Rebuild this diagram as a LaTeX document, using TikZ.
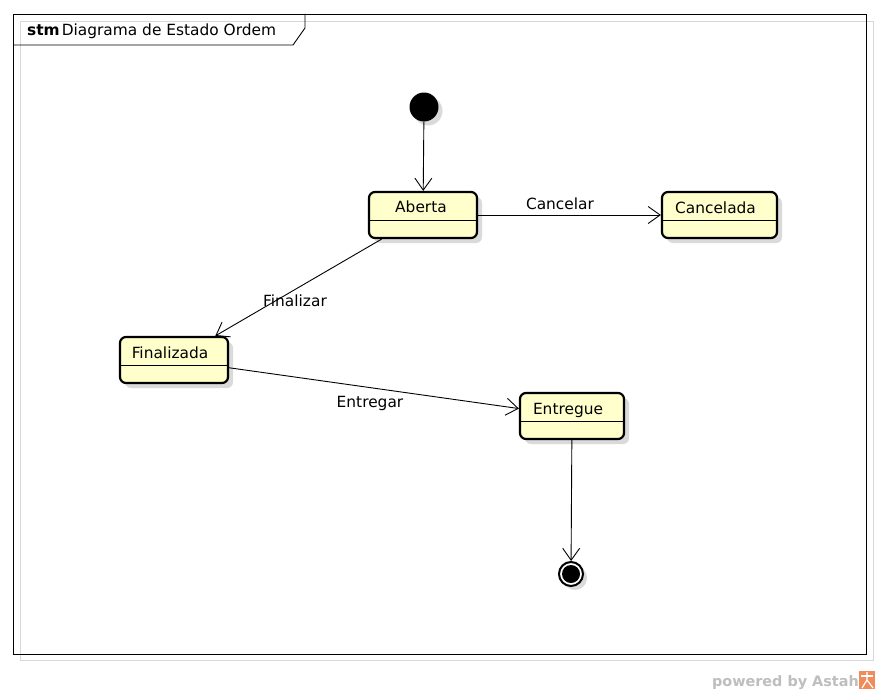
\documentclass[tikz,border=0pt]{standalone}
\usepackage{fontspec}
\setmainfont{DejaVu Sans}
\usetikzlibrary{arrows.meta,calc,shadows}
\definecolor{statefill}{RGB}{255,255,204}
\definecolor{shadowgray}{RGB}{218,218,218}
\definecolor{framegray}{RGB}{215,215,215}
\definecolor{astahgray}{RGB}{190,190,190}
\definecolor{astahorange}{RGB}{240,140,90}
\begin{document}
\begin{tikzpicture}[x=1pt,y=-1pt,
  every node/.style={font=\fontsize{15.4}{18}\selectfont},
  statebox/.style={draw=black, line width=2.2pt, rounded corners=6pt, fill=statefill,
    minimum height=46pt, inner sep=0pt,
    drop shadow={shadow xshift=5pt, shadow yshift=-5pt, fill=shadowgray, opacity=1}},
  statename/.style={anchor=base, inner sep=0pt},
  trans/.style={line width=0.9pt, -{Straight Barb[length=12pt,width=17pt,line width=0.9pt]}},
  tlabel/.style={anchor=base, inner sep=0pt},
  initstate/.style={circle, fill=black, minimum size=29pt, inner sep=0pt,
    drop shadow={shadow xshift=4pt, shadow yshift=-4pt, fill=shadowgray, opacity=1}},
  finalstate/.style={circle, draw=black, line width=2pt, fill=white, minimum size=24pt, inner sep=0pt,
    drop shadow={shadow xshift=4pt, shadow yshift=-4pt, fill=shadowgray, opacity=1}}
]
\useasboundingbox (0,0) rectangle (880,693);
\fill[white] (0,0) rectangle (880,693);
% frame
\draw[framegray, line width=0.8pt] (20.5,21) rectangle (873,660);
\draw[black, line width=0.9pt] (13,14) rectangle (866,654);
\draw[black, line width=0.9pt] (13,45) -- (293,45) -- (305,28) -- (305,14);
\node[anchor=base west, inner sep=0pt] (title) at (27,36) {\textbf{stm}\hspace{2pt}Diagrama de Estado Ordem};

% states
\node[initstate] (init) at (424,107) {};
\node[statebox, minimum width=108pt] (aberta) at (423,215) {};
\node[statebox, minimum width=115pt] (cancelada) at (719.5,215) {};
\node[statebox, minimum width=108pt] (finalizada) at (174,360) {};
\node[statebox, minimum width=104pt] (entregue) at (572,416) {};
\node[finalstate] (final) at (571,574) {};
\fill[black] (final.center) circle (9pt);

% dividers
\foreach \s in {aberta, cancelada, finalizada, entregue}{
  \draw[line width=0.9pt] ($(\s.north west)+(0,30)$) -- ($(\s.north east)+(0,30)$);
}
\node[statename] (naberta) at ($(aberta.north)+(-2,22)$) {Aberta};
\node[statename] (ncancelada) at ($(cancelada.north)+(-4,23)$) {Cancelada};
\node[statename] (nfinalizada) at ($(finalizada.north)+(-4,23)$) {Finalizada};
\node[statename] (nentregue) at ($(entregue.north)+(-4,23)$) {Entregue};

% transitions
\draw[trans] (init) -- (aberta);
\draw[trans] (aberta) -- (cancelada);
\draw[trans] (aberta) -- (finalizada);
\draw[trans] (finalizada) -- (entregue);
\draw[trans] (entregue) -- (final);

\node[tlabel] (lcancelar) at (560,209) {Cancelar};
\node[tlabel] (lfinalizar) at (295,306) {Finalizar};
\node[tlabel] (lentregar) at (370,407) {Entregar};

% powered by
\node[anchor=base east, inner sep=0pt, text=astahgray, font=\fontsize{14.4}{17}\bfseries\selectfont] (powered) at (859,686) {powered by Astah};
\fill[astahorange] (859,671) rectangle (875,689);
\draw[white, line width=1.2pt] (861,676) -- (873,676);
\draw[white, line width=1.2pt] (867,672) -- (867,680) -- (862,688);
\draw[white, line width=1.2pt] (867,680) -- (873,688);
\end{tikzpicture}
\end{document}
